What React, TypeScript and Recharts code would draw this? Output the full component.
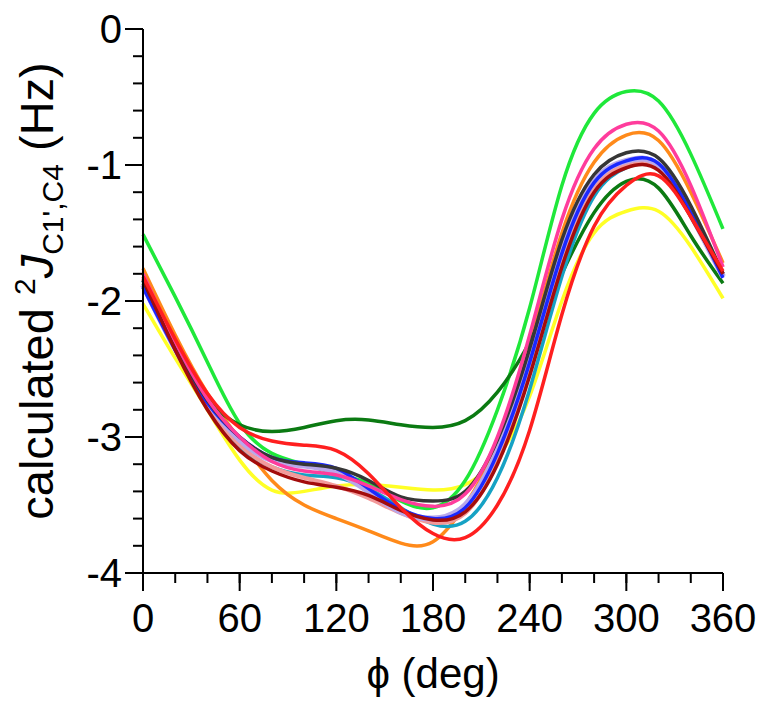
import { LineChart, Line, XAxis, YAxis } from "recharts";

// dihedral angle phi (deg)
const phi = [0, 20, 40, 60, 80, 100, 120, 140, 160, 180, 200, 220, 240, 260, 280, 300, 320, 340, 360];

// calculated 2J(C1',C4) in Hz, one array per structure
const lime = [-1.51, -1.97, -2.45, -2.9, -3.12, -3.2, -3.27, -3.34, -3.47, -3.52, -3.32, -2.8, -2.05, -1.15, -0.62, -0.46, -0.53, -0.92, -1.47];
const darkGreen = [-1.87, -2.35, -2.72, -2.91, -2.96, -2.93, -2.88, -2.875, -2.91, -2.93, -2.88, -2.67, -2.3, -1.8, -1.35, -1.12, -1.17, -1.52, -1.87];
const pink = [-1.8, -2.3, -2.72, -3.0, -3.18, -3.25, -3.28, -3.36, -3.46, -3.51, -3.42, -3.0, -2.25, -1.4, -0.88, -0.7, -0.75, -1.15, -1.75];
const orange = [-1.76, -2.25, -2.68, -3.02, -3.32, -3.5, -3.6, -3.69, -3.78, -3.77, -3.5, -3.05, -2.32, -1.5, -0.98, -0.78, -0.82, -1.2, -1.72];
const black = [-1.85, -2.33, -2.73, -3.0, -3.15, -3.2, -3.23, -3.32, -3.44, -3.47, -3.4, -3.02, -2.35, -1.55, -1.07, -0.91, -0.95, -1.3, -1.8];
const lavender = [-1.88, -2.35, -2.74, -3.02, -3.17, -3.21, -3.26, -3.4, -3.55, -3.6, -3.5, -3.1, -2.43, -1.63, -1.12, -0.97, -1.0, -1.36, -1.82];
const blue = [-1.9, -2.36, -2.75, -3.0, -3.15, -3.19, -3.23, -3.38, -3.53, -3.6, -3.52, -3.12, -2.45, -1.65, -1.13, -0.97, -0.99, -1.35, -1.83];
const salmon = [-1.83, -2.33, -2.76, -3.06, -3.22, -3.3, -3.36, -3.45, -3.56, -3.63, -3.56, -3.18, -2.5, -1.7, -1.17, -1.0, -1.03, -1.38, -1.8];
const darkRed = [-1.84, -2.36, -2.8, -3.1, -3.25, -3.33, -3.37, -3.43, -3.54, -3.61, -3.55, -3.2, -2.55, -1.75, -1.2, -1.02, -1.04, -1.38, -1.8];
const cyan = [-1.85, -2.35, -2.77, -3.07, -3.22, -3.28, -3.3, -3.38, -3.52, -3.64, -3.62, -3.3, -2.65, -1.82, -1.23, -1.02, -1.03, -1.37, -1.8];
const red = [-1.82, -2.28, -2.68, -2.93, -3.03, -3.06, -3.1, -3.27, -3.52, -3.71, -3.74, -3.5, -2.95, -2.1, -1.45, -1.15, -1.08, -1.38, -1.78];
const yellow = [-2.02, -2.42, -2.8, -3.17, -3.39, -3.4, -3.36, -3.35, -3.37, -3.39, -3.35, -3.15, -2.7, -2.0, -1.5, -1.34, -1.34, -1.6, -1.98];

const xTicks = [0, 20, 40, 60, 80, 100, 120, 140, 160, 180, 200, 220, 240, 260, 280, 300, 320, 340, 360];
const xLabels = ["0", "60", "120", "180", "240", "300", "360"];
const yTicks = [0, -0.2, -0.4, -0.6, -0.8, -1, -1.2, -1.4, -1.6, -1.8, -2, -2.2, -2.4, -2.6, -2.8, -3, -3.2, -3.4, -3.6, -3.8, -4];
const yLabels = ["0", "-1", "-2", "-3", "-4"];

const series = [
  { key: "yellow", values: yellow, color: "#ffff26", width: 3.5 },
  { key: "orange", values: orange, color: "#ff8a1a", width: 3.5 },
  { key: "lime", values: lime, color: "#1fe83a", width: 3.5 },
  { key: "darkGreen", values: darkGreen, color: "#0b7a12", width: 3.5 },
  { key: "cyan", values: cyan, color: "#16a2c4", width: 3.5 },
  { key: "salmon", values: salmon, color: "#f39a9a", width: 4 },
  { key: "lavender", values: lavender, color: "#b8a8ea", width: 6 },
  { key: "blue", values: blue, color: "#1a28ff", width: 3.5 },
  { key: "black", values: black, color: "#363636", width: 3.5 },
  { key: "pink", values: pink, color: "#ff3c9c", width: 3.5 },
  { key: "darkRed", values: darkRed, color: "#a30c0c", width: 3.5 },
  { key: "red", values: red, color: "#ff1f1f", width: 3.5 },
];

const data = phi.map((p, i) => {
  const row: Record<string, number> = { phi: p };
  series.forEach((s) => (row[s.key] = s.values[i]));
  return row;
});

const FONT = "'Liberation Sans', Arial, sans-serif";
const MINOR = 10;
const MAJOR = 18;
const MARGIN = 4;

const isMajorY = (v: number) => Math.abs(v - Math.round(v)) < 1e-6;

// eslint-disable-next-line @typescript-eslint/no-explicit-any
const XTick = ({ x, y, payload }: any) => {
  const axisY = y - MINOR - MARGIN;
  const v = payload.value;
  if (v % 60 !== 0) return null;
  const label = xLabels[v / 60];
  return (
    <g>
      <line x1={x} x2={x} y1={axisY} y2={axisY + MAJOR} stroke="#000" strokeWidth={2} />
      <text x={x} y={axisY + 59} textAnchor="middle" fontSize={40} fontFamily={FONT} fill="#000">
        {label}
      </text>
    </g>
  );
};

// eslint-disable-next-line @typescript-eslint/no-explicit-any
const YTick = ({ x, y, payload }: any) => {
  const axisX = x + MINOR + MARGIN;
  const v = payload.value;
  if (!isMajorY(v)) return null;
  const label = yLabels[Math.round(-v)];
  return (
    <g>
      <line x1={axisX - MAJOR} x2={axisX} y1={y} y2={y} stroke="#000" strokeWidth={2} />
      <text x={axisX - 21} y={y} dy="0.36em" textAnchor="end" fontSize={40} fontFamily={FONT} fill="#000">
        {label}
      </text>
    </g>
  );
};

const YTitle = () => (
  <text transform="translate(53,291) rotate(-90)" textAnchor="middle" fontSize={47} fontFamily={FONT} fill="#000">
    calculated{" "}
    <tspan fontSize={30} dy={-18}>2</tspan>
    <tspan fontStyle="italic" fontSize={47} dy={18}>J</tspan>
    <tspan fontSize={30} dy={10}>C1',C4</tspan>
    <tspan dy={-10}> (Hz)</tspan>
  </text>
);

const XTitle = () => (
  <text x={433} y={688} textAnchor="middle" fontSize={42} fontFamily={FONT} fill="#000">
    ϕ (deg)
  </text>
);

export default function App() {
  return (
    <div style={{ position: "absolute", left: 0, top: 0, width: 767, height: 706, background: "#fff" }}>
      <LineChart width={767} height={706} data={data} margin={{ top: 29, right: 44, left: 0, bottom: 0 }}>
        <XAxis
          dataKey="phi"
          type="number"
          domain={[0, 360]}
          ticks={xTicks}
          interval={0}
          height={133}
          tickSize={MINOR}
          tickMargin={MARGIN}
          tick={<XTick />}
          axisLine={{ stroke: "#000", strokeWidth: 2 }}
          tickLine={{ stroke: "#000", strokeWidth: 2 }}
          label={<XTitle />}
        />
        <YAxis
          type="number"
          domain={[-4, 0]}
          ticks={yTicks}
          interval={0}
          width={143}
          tickSize={MINOR}
          tickMargin={MARGIN}
          tick={<YTick />}
          axisLine={{ stroke: "#000", strokeWidth: 2 }}
          tickLine={{ stroke: "#000", strokeWidth: 2 }}
          label={<YTitle />}
        />
        {series.map((s) => (
          <Line
            key={s.key}
            dataKey={s.key}
            type="natural"
            stroke={s.color}
            strokeWidth={s.width}
            dot={false}
            activeDot={false}
            isAnimationActive={false}
          />
        ))}
      </LineChart>
    </div>
  );
}
